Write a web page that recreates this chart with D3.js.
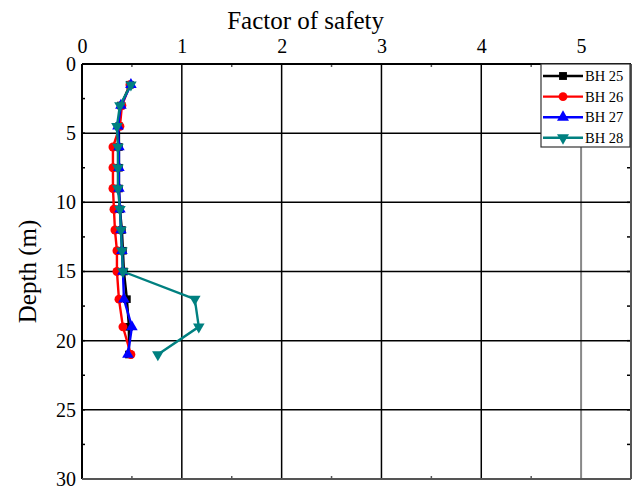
<html>
<head>
    <style>
        body { margin: 0; background: white; }
    </style>
</head>
<body>
    <script src="https://d3js.org/d3.v7.min.js"></script>
    <script>
        var width = 635, height = 492;
        var margin = { top: 64, right: 4, bottom: 13, left: 82 };
        var serif = "'Liberation Serif', 'Times New Roman', serif";

        // depth (m) of each sample
        var depths = [1.5, 3, 4.5, 6, 7.5, 9, 10.5, 12, 13.5, 15, 17, 19, 21];
        var seriesNames = ["BH 25", "BH 26", "BH 27", "BH 28"];
        var bh25 = [0.48, 0.39, 0.37, 0.37, 0.37, 0.37, 0.38, 0.40, 0.41, 0.42, 0.45, 0.47, 0.47];
        var bh26 = [0.48, 0.40, 0.38, 0.31, 0.31, 0.31, 0.32, 0.33, 0.35, 0.35, 0.37, 0.41, 0.49];
        var bh27 = [0.49, 0.39, 0.36, 0.37, 0.37, 0.37, 0.38, 0.39, 0.40, 0.41, 0.42, 0.50, 0.46];
        var bh28 = [0.49, 0.38, 0.35, 0.36, 0.36, 0.36, 0.38, 0.39, 0.40, 0.41, 1.13, 1.17, 0.76];
        var xTicks = [0, 1, 2, 3, 4, 5];
        var yTicks = [0, 5, 10, 15, 20, 25, 30];

        var colors = ["#000000", "#ff0000", "#0000ff", "#008080"];
        var symbols = [d3.symbolSquare, d3.symbolCircle, d3.symbolTriangle, d3.symbolTriangle];
        var values = [bh25, bh26, bh27, bh28];

        var iw = width - margin.left - margin.right, ih = height - margin.top - margin.bottom;

        var svg = d3.select("body").append("svg")
            .attr("width", width)
            .attr("height", height)
            .style("font-family", serif);

        var x = d3.scaleLinear().domain([0, 5.5]).range([0, iw]);
        var y = d3.scaleLinear().domain([0, 30]).range([0, ih]);

        var g = svg.append("g").attr("transform", "translate(" + margin.left + "," + margin.top + ")");

        // grid
        g.selectAll(".vgrid").data([1, 2, 3, 4, 5]).enter().append("line")
            .attr("x1", d => x(d)).attr("x2", d => x(d))
            .attr("y1", 0).attr("y2", ih)
            .attr("stroke", d => d == 5 ? "#888" : "#000")
            .attr("stroke-width", d => d == 5 ? 2 : 1.5);
        g.selectAll(".hgrid").data([5, 10, 15, 20, 25]).enter().append("line")
            .attr("x1", 0).attr("x2", iw)
            .attr("y1", d => y(d)).attr("y2", d => y(d))
            .attr("stroke", "#000")
            .attr("stroke-width", 1.5);

        // minor ticks (inward)
        var xMinor = d3.range(0.5, 5.5, 1);
        g.selectAll(".xmt").data(xMinor).enter().append("line")
            .attr("x1", d => x(d)).attr("x2", d => x(d)).attr("y1", 0).attr("y2", 3)
            .attr("stroke", "#555").attr("stroke-width", 1.5);
        g.selectAll(".xmb").data(xMinor).enter().append("line")
            .attr("x1", d => x(d)).attr("x2", d => x(d)).attr("y1", ih).attr("y2", ih - 3)
            .attr("stroke", "#555").attr("stroke-width", 1.5);
        var yMinor = d3.range(2.5, 30, 2.5);
        g.selectAll(".yml").data(yMinor).enter().append("line")
            .attr("x1", 0).attr("x2", 3).attr("y1", d => y(d)).attr("y2", d => y(d))
            .attr("stroke", "#000").attr("stroke-width", 1.5);
        g.selectAll(".ymr").data(yMinor).enter().append("line")
            .attr("x1", iw).attr("x2", iw - 4).attr("y1", d => y(d)).attr("y2", d => y(d))
            .attr("stroke", "#000").attr("stroke-width", 1.5);

        // frame
        g.append("line").attr("x1", 0).attr("x2", iw).attr("y1", 0).attr("y2", 0).attr("stroke", "#000").attr("stroke-width", 2);
        g.append("line").attr("x1", 0).attr("x2", 0).attr("y1", 0).attr("y2", ih).attr("stroke", "#000").attr("stroke-width", 2);
        g.append("line").attr("x1", iw).attr("x2", iw).attr("y1", 0).attr("y2", ih).attr("stroke", "#555").attr("stroke-width", 2);
        g.append("line").attr("x1", 0).attr("x2", iw).attr("y1", ih).attr("y2", ih).attr("stroke", "#555").attr("stroke-width", 2);

        // tick labels via d3 axes
        var xAxis = g.append("g").call(d3.axisTop(x).tickValues(xTicks).tickFormat(d3.format("d")).tickSize(0).tickPadding(11));
        xAxis.attr("font-family", null).select(".domain").remove();
        xAxis.selectAll("text").style("font-size", "20px").style("font-family", serif).attr("fill", "#000");

        var yAxis = g.append("g").call(d3.axisLeft(y).tickValues(yTicks).tickFormat(d3.format("d")).tickSize(0).tickPadding(6));
        yAxis.attr("font-family", null).select(".domain").remove();
        yAxis.selectAll("text").style("font-size", "20px").style("font-family", serif).attr("fill", "#000");

        svg.append("text")
            .attr("x", margin.left + x(2.24)).attr("y", 29)
            .attr("text-anchor", "middle")
            .style("font-size", "25px")
            .style("font-family", serif)
            .text("Factor of safety");

        svg.append("text")
            .attr("transform", "translate(36," + (margin.top + ih / 2) + ") rotate(-90)")
            .attr("text-anchor", "middle")
            .style("font-size", "25px")
            .style("font-family", serif)
            .text("Depth (m)");

        // series
        var line = d3.line().x(d => x(d.v)).y(d => y(d.d));
        values.forEach(function (vals, i) {
            var pts = vals.map((v, k) => ({ v: v, d: depths[k] }));
            g.append("path").datum(pts)
                .attr("d", line)
                .attr("fill", "none")
                .attr("stroke", colors[i])
                .attr("stroke-width", 2.4);
            g.selectAll(".m" + i).data(pts).enter().append("path")
                .attr("d", d3.symbol().type(symbols[i]).size(i == 1 ? 62 : 58))
                .attr("transform", d => "translate(" + x(d.v) + "," + y(d.d) + ")" + (i == 3 ? " rotate(180)" : ""))
                .attr("fill", colors[i]);
        });

        // legend
        var lg = svg.append("g").attr("transform", "translate(541,64)");
        lg.append("rect").attr("x", 0).attr("y", 0).attr("width", 89).attr("height", 83)
            .attr("fill", "white").attr("stroke", "#333").attr("stroke-width", 1.2);
        seriesNames.forEach(function (name, i) {
            var yy = 12 + i * 20.6;
            lg.append("line").attr("x1", 2).attr("x2", 42).attr("y1", yy).attr("y2", yy)
                .attr("stroke", colors[i]).attr("stroke-width", 2.4);
            lg.append("path")
                .attr("d", d3.symbol().type(symbols[i]).size(62))
                .attr("transform", "translate(22," + yy + ")" + (i == 3 ? " rotate(180)" : ""))
                .attr("fill", colors[i]);
            lg.append("text").attr("x", 44).attr("y", yy + 5)
                .style("font-size", "14.5px")
                .style("font-family", serif)
                .text(name);
        });
    </script>
</body>
</html>
